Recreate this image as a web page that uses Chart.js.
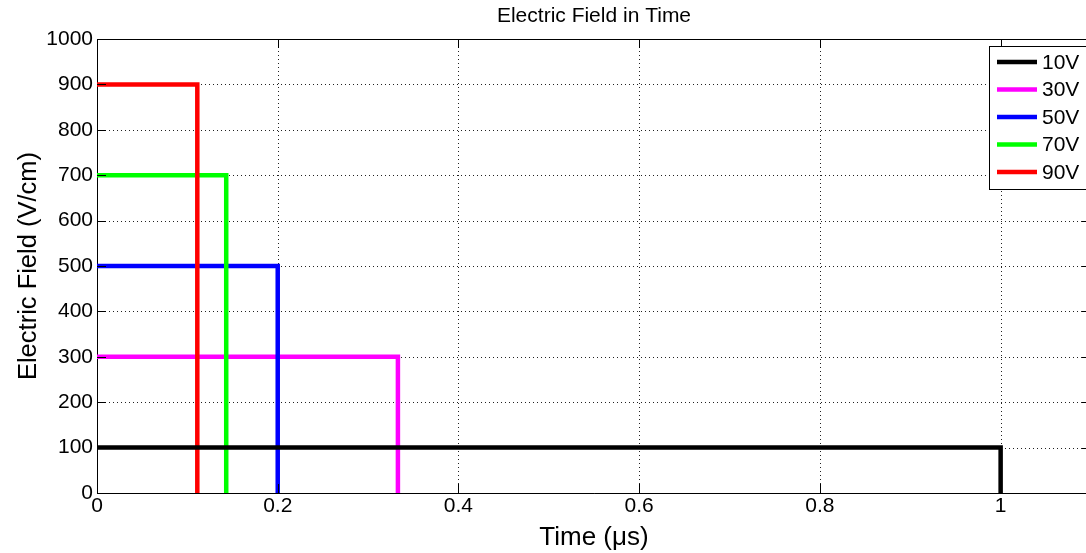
<!DOCTYPE html>
<html>
<head>
<meta charset="utf-8">
<script src="https://cdn.jsdelivr.net/npm/chart.js@4"></script>
<style>
  html, body { margin: 0; padding: 0; background: #fff; overflow: hidden; }
  #wrap { width: 1100px; height: 553px; }
</style>
</head>
<body>
<div id="wrap"><canvas id="fieldChart"></canvas></div>
<script>
// voltages and the field / pulse end time for each (field in V/cm, time in us)
const labels = ['10V', '30V', '50V', '70V', '90V'];
const fields = [100, 300, 500, 700, 900];
const endTimes = [1.0, 0.333, 0.2, 0.143, 0.111];
const colors = ['#000000', '#ff00ff', '#0000ff', '#00ff00', '#ff0000'];
const drawOrder = [0, 4, 3, 2, 1];
const xTicks = [0, 0.2, 0.4, 0.6, 0.8, 1];
const yTicks = [0, 100, 200, 300, 400, 500, 600, 700, 800, 900, 1000];
const chartTitle = 'Electric Field in Time';

const FONT = '"Liberation Sans", Arial, sans-serif';

function pulse(field, tEnd) {
    return [{ x: 0, y: field }, { x: tEnd, y: field }, { x: tEnd, y: 0 }];
}

const datasets = labels.map((name, i) => ({
    label: name,
    data: pulse(fields[i], endTimes[i]),
    borderColor: colors[i],
    backgroundColor: colors[i],
    borderWidth: 4.5,
    pointRadius: 0,
    fill: false,
    tension: 0,
    order: drawOrder[i]
}));

// box, inner ticks, title over the plot area and the MATLAB style legend
const matlabFrame = {
    id: 'matlabFrame',
    afterDatasetsDraw(chart) {
        const { ctx, chartArea: a, scales } = chart;
        ctx.save();
        ctx.strokeStyle = '#000';
        ctx.lineWidth = 1;
        ctx.beginPath();
        ctx.moveTo(a.left, a.top + 0.5);
        ctx.lineTo(a.right, a.top + 0.5);
        ctx.moveTo(a.right - 0.5, a.top);
        ctx.lineTo(a.right - 0.5, a.bottom);
        ctx.stroke();

        // inward tick marks
        const len = 9;
        ctx.beginPath();
        xTicks.forEach(v => {
            const px = Math.round(scales.x.getPixelForValue(v)) + 0.5;
            ctx.moveTo(px, a.bottom); ctx.lineTo(px, a.bottom - len);
            ctx.moveTo(px, a.top); ctx.lineTo(px, a.top + len);
        });
        yTicks.forEach(v => {
            const py = Math.round(scales.y.getPixelForValue(v)) + 0.5;
            ctx.moveTo(a.left, py); ctx.lineTo(a.left + len, py);
            ctx.moveTo(a.right, py); ctx.lineTo(a.right - len, py);
        });
        ctx.stroke();

        // title, centred on the axes like MATLAB does
        ctx.fillStyle = '#000';
        ctx.font = '21px ' + FONT;
        ctx.textAlign = 'center';
        ctx.textBaseline = 'middle';
        ctx.fillText(chartTitle, (a.left + a.right) / 2, 16);

        // legend
        const bx = 989.5, by = 46.5, bw = 100, bh = 143;
        ctx.fillStyle = '#fff';
        ctx.fillRect(bx, by, bw, bh);
        ctx.strokeStyle = '#000';
        ctx.strokeRect(bx, by, bw, bh);
        ctx.font = '21px ' + FONT;
        ctx.textBaseline = 'middle';
        ctx.textAlign = 'left';
        chart.data.datasets.forEach((ds, i) => {
            const y = 62 + i * 27.5;
            ctx.strokeStyle = ds.borderColor;
            ctx.lineWidth = 4.5;
            ctx.beginPath();
            ctx.moveTo(997, y);
            ctx.lineTo(1037, y);
            ctx.stroke();
            ctx.fillStyle = '#000';
            ctx.fillText(ds.label, 1042, y + 1);
        });
        ctx.restore();
    }
};

new Chart(document.getElementById('fieldChart'), {
    type: 'line',
    data: { datasets: datasets },
    options: {
        responsive: true,
        maintainAspectRatio: false,
        animation: false,
        layout: { padding: { left: 0, right: 9, top: 39, bottom: 0 } },
        plugins: {
            legend: { display: false },
            tooltip: { enabled: false },
            title: { display: false }
        },
        scales: {
            x: {
                type: 'linear',
                min: 0,
                max: 1.1,
                afterBuildTicks: s => { s.ticks = xTicks.map(v => ({ value: v })); },
                afterFit: s => { s.height = 60; },
                ticks: {
                    color: '#000',
                    font: { family: FONT, size: 21 },
                    padding: 1,
                    maxRotation: 0,
                    callback: v => String(v)
                },
                grid: {
                    color: '#333',
                    drawTicks: false
                },
                border: { color: '#000', width: 1 },
                title: {
                    display: true,
                    text: 'Time (\u03bcs)',
                    color: '#000',
                    font: { family: FONT, size: 26 },
                    padding: { top: 0, bottom: 0 }
                }
            },
            y: {
                type: 'linear',
                min: 0,
                max: 1000,
                afterBuildTicks: s => { s.ticks = yTicks.map(v => ({ value: v })); },
                afterFit: s => { s.width = 97; },
                ticks: {
                    color: '#000',
                    font: { family: FONT, size: 21 },
                    padding: 4,
                    callback: v => String(v)
                },
                grid: {
                    color: '#333',
                    drawTicks: false
                },
                border: { color: '#000', width: 1 },
                title: {
                    display: true,
                    text: 'Electric Field (V/cm)',
                    color: '#000',
                    font: { family: FONT, size: 25.5 },
                    padding: { top: 14, bottom: 0 }
                }
            }
        }
    },
    plugins: [matlabFrame, {
        id: 'dottedGrid',
        beforeDatasetsDraw(chart) {
            // dotted grid like MATLAB "grid on"
            const { ctx, chartArea: a, scales } = chart;
            ctx.save();
            ctx.fillStyle = '#fff';
            ctx.fillRect(a.left + 1, a.top + 1, a.right - a.left - 1, a.bottom - a.top - 1);
            ctx.strokeStyle = '#222';
            ctx.lineWidth = 1;
            ctx.setLineDash([1, 3]);
            ctx.beginPath();
            xTicks.slice(1).forEach(v => {
                const px = Math.round(scales.x.getPixelForValue(v)) + 0.5;
                ctx.moveTo(px, a.top); ctx.lineTo(px, a.bottom);
            });
            yTicks.slice(1, -1).forEach(v => {
                const py = Math.round(scales.y.getPixelForValue(v)) + 0.5;
                ctx.moveTo(a.left, py); ctx.lineTo(a.left + len(), py);
            });
            function len() { return a.right - a.left; }
            ctx.stroke();
            ctx.restore();
        }
    }]
});
</script>
</body>
</html>
